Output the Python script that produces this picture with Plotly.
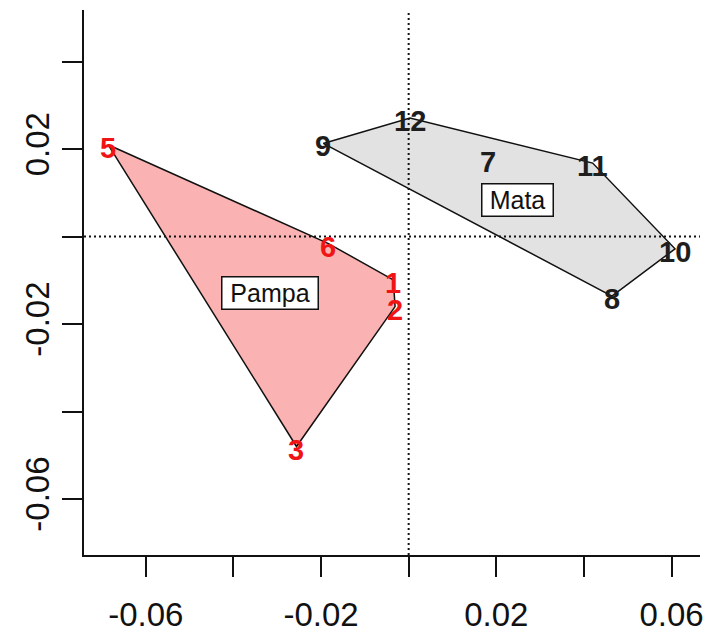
import plotly.graph_objects as go

# Site scores (axis 1, axis 2) and labels
pampa_ids = ["1", "2", "3", "5", "6"]
pampa_x = [-0.0035, -0.0031, -0.0256, -0.0686, -0.0183]
pampa_y = [-0.0099, -0.0160, -0.0480, 0.0210, -0.0016]
pampa_hull = ["5", "6", "1", "2", "3"]

mata_ids = ["7", "8", "9", "10", "11", "12"]
mata_x = [0.0182, 0.0464, -0.0195, 0.0608, 0.0420, 0.0003]
mata_y = [0.0178, -0.0136, 0.0213, -0.0028, 0.0168, 0.0271]
mata_hull = ["9", "12", "11", "10", "8"]

group_names = ["Pampa", "Mata"]
group_x = [-0.0316, 0.0249]
group_y = [-0.0129, 0.0084]

x_ticks = [-0.06, -0.04, -0.02, 0.0, 0.02, 0.04, 0.06]
x_ticktext = ["-0.06", "", "-0.02", "", "0.02", "", "0.06"]
y_ticks = [-0.06, -0.04, -0.02, 0.0, 0.02, 0.04]
y_ticktext = ["-0.06", "", "-0.02", "", "0.02", ""]

FONT = "Liberation Sans, Arial, sans-serif"

fig = go.Figure()

def hull_xy(ids, xs, ys, order):
    lookup = {i: (x, y) for i, x, y in zip(ids, xs, ys)}
    hx = [lookup[i][0] for i in order] + [lookup[order[0]][0]]
    hy = [lookup[i][1] for i in order] + [lookup[order[0]][1]]
    return hx, hy

for ids, xs, ys, order, fill in [
    (pampa_ids, pampa_x, pampa_y, pampa_hull, "rgba(250,178,178,1)"),
    (mata_ids, mata_x, mata_y, mata_hull, "rgba(226,226,226,1)"),
]:
    hx, hy = hull_xy(ids, xs, ys, order)
    fig.add_trace(go.Scatter(x=hx, y=hy, mode="lines", fill="toself",
                             fillcolor=fill,
                             line=dict(color="#111111", width=1.5),
                             hoverinfo="skip", showlegend=False))

fig.add_hline(y=0, line=dict(color="#111111", width=2, dash="2px,3px"))
fig.add_vline(x=0, line=dict(color="#111111", width=2, dash="2px,3px"))

for ids, xs, ys, col in [(pampa_ids, pampa_x, pampa_y, "#F01414"),
                         (mata_ids, mata_x, mata_y, "#1E1E1E")]:
    for i, x, y in zip(ids, xs, ys):
        fig.add_annotation(x=x, y=y, text=i, showarrow=False, yshift=-3,
                           font=dict(family=FONT, size=29, color=col, weight="bold"))

for name, x, y in zip(group_names, group_x, group_y):
    fig.add_annotation(x=x, y=y, text=name, showarrow=False,
                       bgcolor="white", bordercolor="#111111", borderwidth=1.5,
                       borderpad=0, width=len(name) * 25 - 30, height=31,
                       font=dict(family=FONT, size=25, color="#111111"))

fig.update_layout(
    width=706, height=637,
    margin=dict(l=84, r=6, t=10, b=82, autoexpand=False),
    paper_bgcolor="white", plot_bgcolor="white",
    showlegend=False,
    font=dict(family=FONT, color="#111111"),
)
fig.update_xaxes(range=[-0.0741, 0.0665], showgrid=False, zeroline=False,
                 automargin=False,
                 showline=True, linecolor="#111111", linewidth=1.5,
                 ticks="outside", ticklen=20, tickwidth=1.5, tickcolor="#111111",
                 tickvals=x_ticks, ticktext=x_ticktext,
                 tickfont=dict(family=FONT, size=33, color="#111111"),
                 ticklabelstandoff=10)
fig.update_yaxes(range=[-0.0728, 0.0518], showgrid=False, zeroline=False,
                 automargin=False,
                 showline=True, linecolor="#111111", linewidth=1.5,
                 ticks="outside", ticklen=20, tickwidth=1.5, tickcolor="#111111",
                 tickvals=y_ticks, ticktext=y_ticktext, tickangle=-90,
                 tickfont=dict(family=FONT, size=33, color="#111111"),
                 ticklabelstandoff=0)

# remove the page's default body margin so the figure fills the window exactly
fig.write_html("out.html",
               config={"displayModeBar": False},
               post_script="document.body.style.margin='0';"
                           "document.body.style.overflow='hidden';")
